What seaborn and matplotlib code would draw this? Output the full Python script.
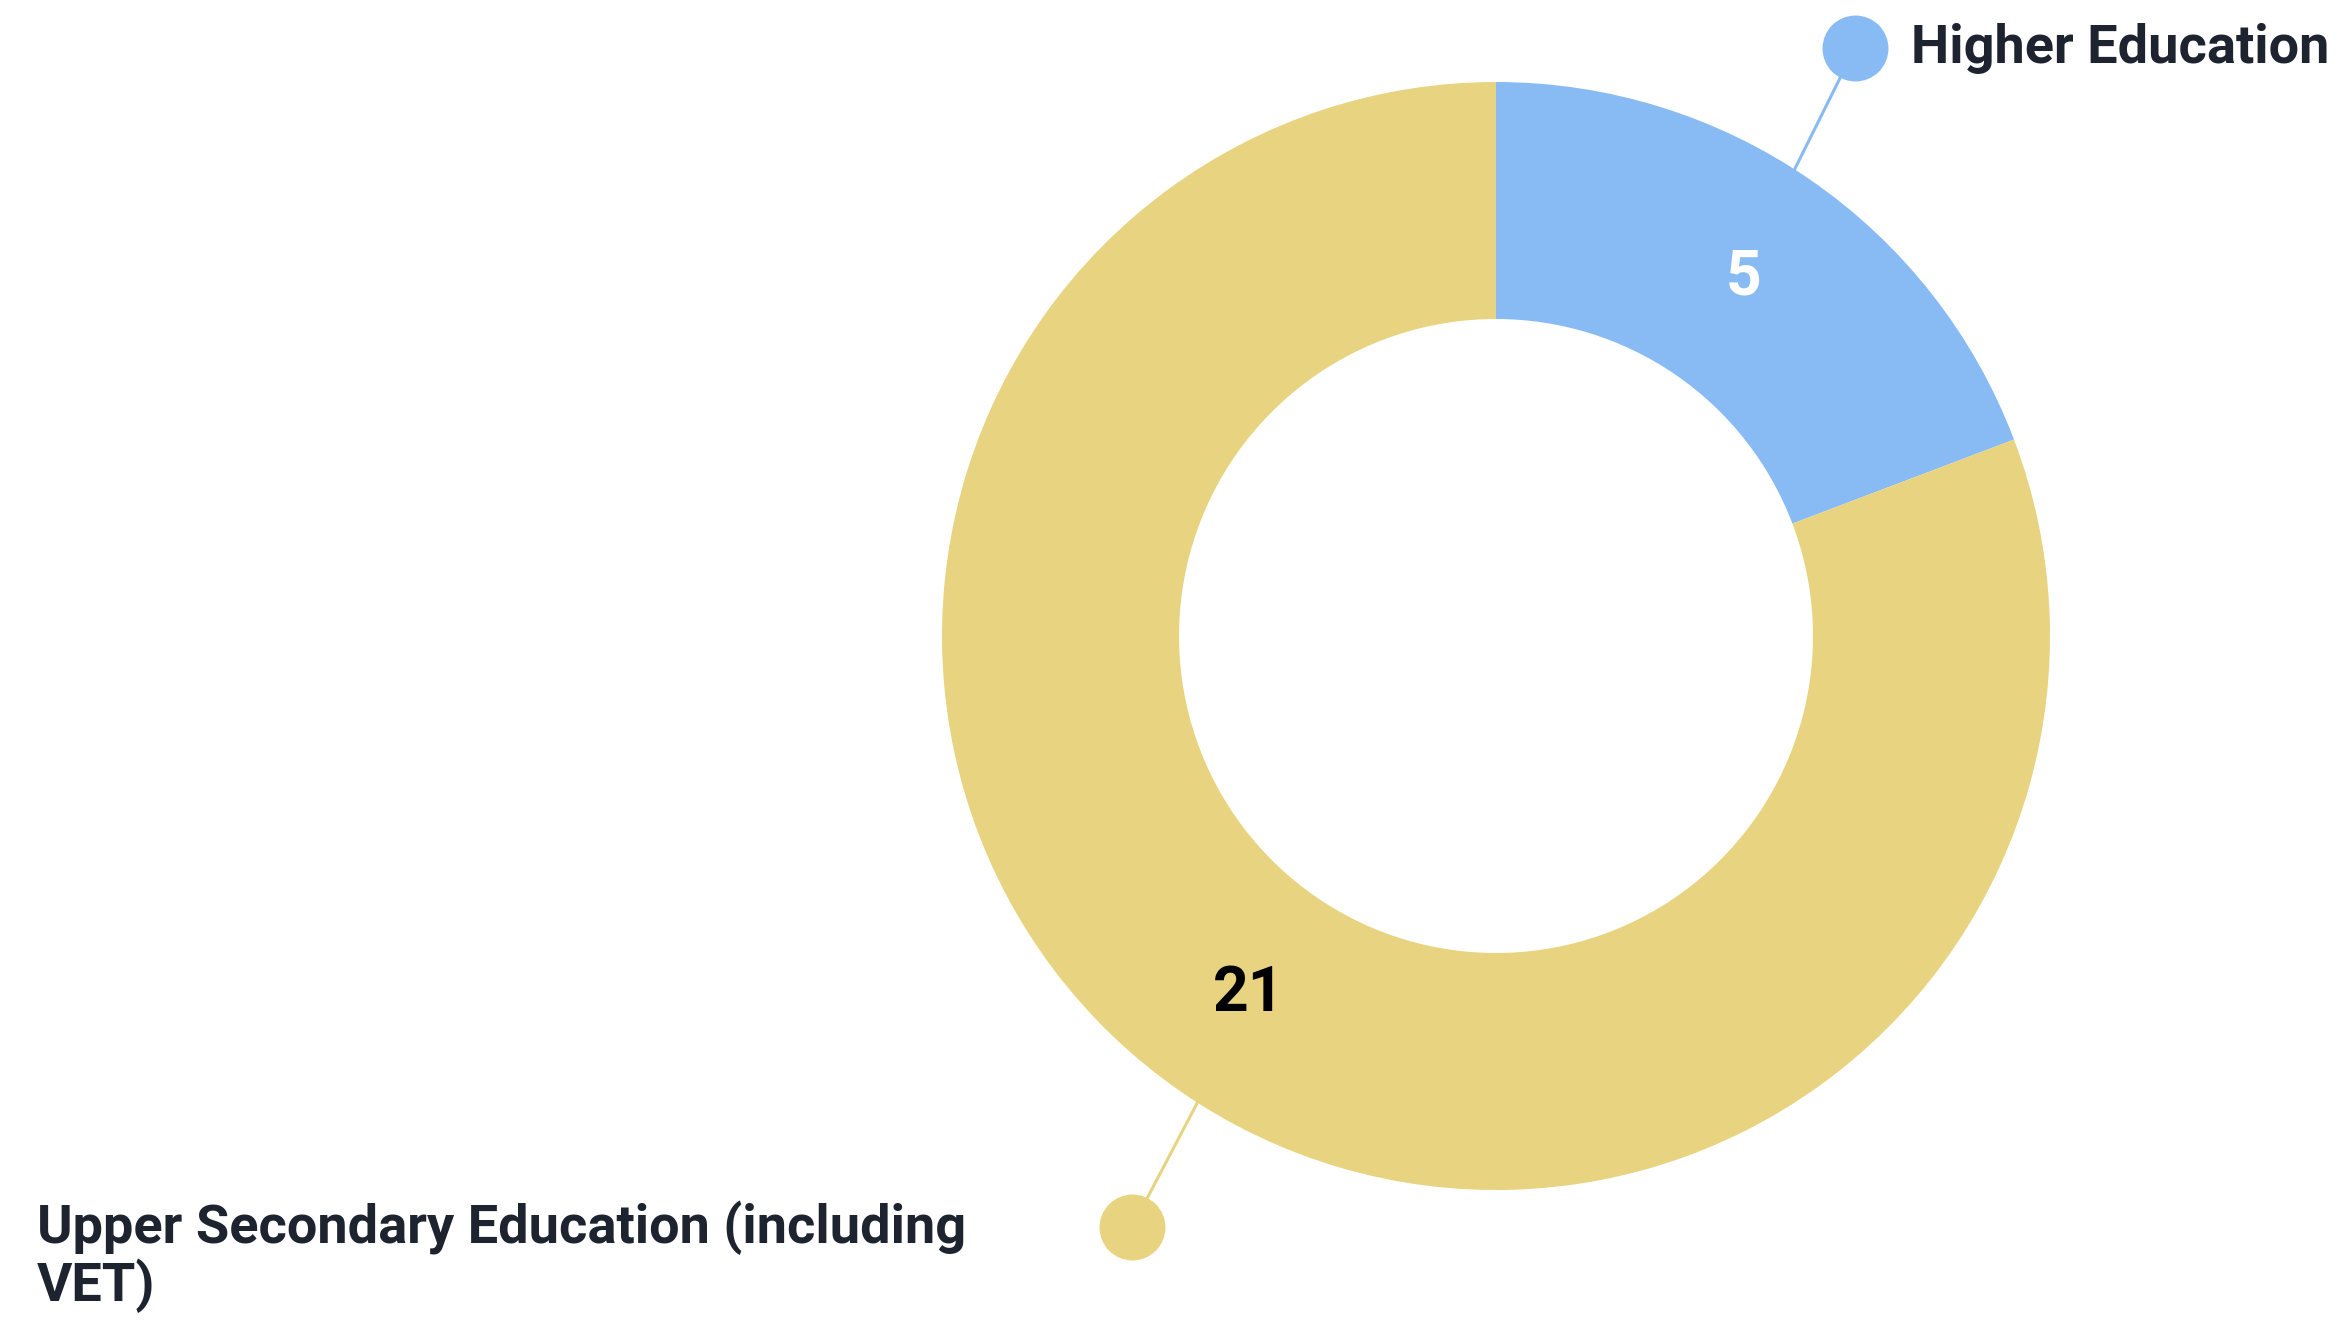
import matplotlib
matplotlib.use("Agg")
import matplotlib.pyplot as plt
import seaborn as sns
import numpy as np

categories = ["Higher Education", "Upper Secondary Education (including\nVET)"]
values = [5, 21]
colors = ["#88BAF4", "#E8D380"]
value_text_colors = ["white", "black"]
# label anchor (dot) positions in figure pixels, y measured upward
dot_pos = [(1855, 1272), (1132, 93)]
text_pos = [(1911, 1272), (37, 63)]

sns.set_theme(style="white")
plt.rcParams['font.family'] = ['Roboto', 'DejaVu Sans']

fig = plt.figure(figsize=(23.46, 13.2), dpi=100)
ax = fig.add_axes([0, 0, 1, 1])
cx, cy = 1496, 684
R = 554
W = 237
total = sum(values)
wedges, texts, autotexts = ax.pie(
    values, colors=colors, startangle=90, counterclock=False,
    radius=R, center=(cx, cy),
    wedgeprops=dict(width=W, linewidth=0),
    autopct=lambda p: f"{p * total / 100:.0f}",
    pctdistance=(R - W / 2) / R,
    textprops=dict(fontsize=45, fontweight='bold'))
for t, c in zip(autotexts, value_text_colors):
    t.set_color(c)

for wdg, col, dp, tp, lab in zip(wedges, colors, dot_pos, text_pos, categories):
    ang = np.deg2rad((wdg.theta1 + wdg.theta2) / 2 + 2)
    x0 = cx + R * np.cos(ang)
    y0 = cy + R * np.sin(ang)
    ax.plot([x0, dp[0]], [y0, dp[1]], color=col, lw=2.2, zorder=3)
    ax.scatter([dp[0]], [dp[1]], s=np.pi * 33 ** 2 * (72 / 100) ** 2 * 1.27,
               color=col, zorder=4, linewidths=0)
    ax.text(tp[0], tp[1], lab, ha="left", va="center", fontsize=39, fontweight="bold",
            color="#1E2330", linespacing=1.08)

ax.set_xlim(0, 2346)
ax.set_ylim(0, 1320)
ax.set_aspect("equal")
ax.axis("off")
fig.savefig("out.png", dpi=100)
